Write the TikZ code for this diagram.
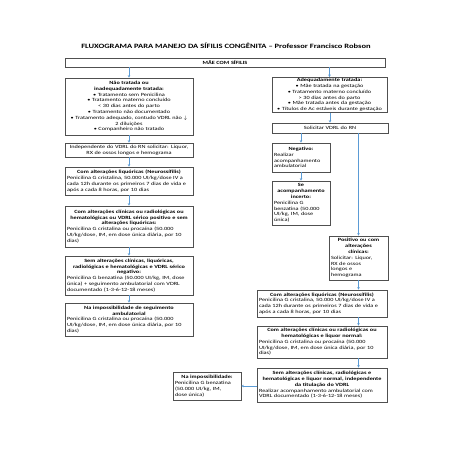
\documentclass[tikz,border=0pt]{standalone}
\usepackage{fontspec}
\setmainfont{Carlito}[FakeStretch=1.3]
\usetikzlibrary{arrows.meta}
\definecolor{arrblue}{HTML}{5B9BD5}
\definecolor{boxgray}{HTML}{505050}
\newcommand\ttl[1]{{\centering\bfseries #1\par}}
\tikzset{
  bx/.style={draw=boxgray, line width=0.6pt, inner xsep=2pt, inner ysep=1pt,
    font=\fontsize{4.8}{5.8}\selectfont, align=left},
  cbx/.style={bx, align=center},
  arr/.style={draw=arrblue, line width=0.6pt, -{Stealth[length=2.6pt,width=2.6pt]}},
  ln/.style={draw=arrblue, line width=0.6pt}
}
\begin{document}
\begin{tikzpicture}[x=1pt,y=-1pt]
\useasboundingbox (0,0) rectangle (453,453);
\node[font=\fontsize{6.55}{7}\selectfont\bfseries] (title) at (226,46)
  {FLUXOGRAMA PARA MANEJO DA SÍFILIS CONGÊNITA – Professor Francisco Robson};

\node[cbx, text width=316pt, minimum width=320pt, minimum height=9pt] (mae) at (225,62.5)
  {\bfseries MÃE COM SÍFILIS};

% left column
\node[cbx, text width=124pt, minimum width=128pt, minimum height=57pt] (nt) at (129,106.5)
  {\textbf{Não tratada ou}\\ \textbf{inadequadamente tratada:}\\
   • Tratamento sem Penicilina\\ • Tratamento materno concluído\\
   < 30 dias antes do parto\\ • Tratamento não documentado\\
   • Tratamento adequado, contudo VDRL não $\downarrow$\\ 2 diluições\\
   • Companheiro não tratado};
\node[cbx, text width=124pt, minimum width=128pt, minimum height=14pt] (ind) at (129,150)
  {Independente do VDRL do RN solicitar: Liquor,\\ RX de ossos longos e hemograma};
\node[bx, text width=124pt, minimum width=128pt, minimum height=28pt] (liq) at (129,181)
  {\ttl{Com alterações liquóricas (Neurossífilis)}%
   Penicilina G cristalina, 50.000 UI/kg/dose IV a\\
   cada 12h durante os primeiros 7 dias de vida e\\
   após a cada 8 horas, por 10 dias};
\node[bx, text width=124pt, minimum width=128pt, minimum height=41pt] (cli) at (129,226.5)
  {\ttl{Com alterações clínicas ou radiológicas ou\\ hematológicas ou VDRL sérico positivo e sem\\ alterações liquóricas:}%
   Penicilina G cristalina ou procaína (50.000\\
   UI/kg/dose, IM, em dose única diária, por 10\\ dias)};
\node[bx, text width=124pt, minimum width=128pt, minimum height=39pt] (sem) at (129,275.5)
  {\ttl{Sem alterações clínicas, liquóricas,\\ radiológicas e hematológicas e VDRL sérico\\ negativo:}%
   Penicilina G benzatina (50.000 UI/kg, IM, dose\\
   única) + seguimento ambulatorial com VDRL\\
   documentado (1-3-6-12-18 meses)};
\node[bx, text width=124pt, minimum width=128pt, minimum height=33pt] (imp) at (129,319.5)
  {\ttl{Na impossibilidade de seguimento\\ ambulatorial}%
   Penicilina G cristalina ou procaína (50.000\\
   UI/kg/dose, IM, em dose única diária, por 10\\ dias)};

% right column
\node[cbx, text width=111pt, minimum width=115pt, minimum height=34pt] (ade) at (329.5,95)
  {\textbf{Adequadamente tratada:}\\ • Mãe tratada na gestação\\
   • Tratamento materno concluído\\ > 30 dias antes do parto\\
   • Mãe tratada antes da gestação\\ • Títulos de Ac estáveis durante gestação};
\node[cbx, text width=112pt, minimum width=116pt, minimum height=10pt] (sol) at (330,128)
  {Solicitar VDRL do RN};
\node[bx, text width=54pt, minimum width=58pt, minimum height=29pt] (neg) at (301,157.5)
  {\ttl{Negativo:}Realizar\\ acompanhamento\\ ambulatorial};
\node[bx, text width=54pt, minimum width=58pt, minimum height=44pt] (se) at (301,203)
  {\ttl{Se\\ acompanhamento\\ incerto:}Penicilina G\\ benzatina (50.000\\ UI/kg, IM, dose\\ única)};
\node[bx, text width=55pt, minimum width=59pt, minimum height=44pt] (pos) at (358.5,258)
  {\ttl{Positivo ou com\\ alterações\\ clínicas:}Solicitar: Liquor,\\ RX de ossos\\ longos e\\ hemograma};
\node[bx, text width=126pt, minimum width=130pt, minimum height=27pt] (rliq) at (322,303.5)
  {\ttl{Com alterações liquóricas (Neurossífilis)}%
   Penicilina G cristalina, 50.000 UI/kg/dose IV a\\
   cada 12h durante os primeiros 7 dias de vida e\\
   após a cada 8 horas, por 10 dias};
\node[bx, text width=126pt, minimum width=130pt, minimum height=32pt] (rcli) at (322,342)
  {\ttl{Com alterações clínicas ou radiológicas ou\\ hematológicas e liquor normal:}%
   Penicilina G cristalina ou procaína (50.000\\
   UI/kg/dose, IM, em dose única diária, por 10\\ dias)};
\node[bx, text width=126pt, minimum width=130pt, minimum height=34pt] (rsem) at (322,385)
  {\ttl{Sem alterações clínicas, radiológicas e\\ hematológicas e liquor normal, independente\\ da titulação do VDRL}%
   Realizar acompanhamento ambulatorial com\\
   VDRL documentado (1-3-6-12-18 meses)};
\node[bx, text width=64pt, minimum width=68pt, minimum height=28pt] (rimp) at (207,386)
  {\ttl{Na impossibilidade:}Penicilina G benzatina\\ (50.000 UI/kg, IM,\\ dose única)};

% connectors
\draw[arr] (mae.south -| nt.north) -- (nt.north);
\draw[arr] (mae.south -| ade.north) -- (ade.north);
\draw[arr] (nt) -- (ind);
\draw[arr] (ind) -- (liq);
\draw[arr] (liq) -- (cli);
\draw[arr] (cli) -- (sem);
\draw[arr] (sem) -- (imp);
\draw[arr] (ade.south -| sol.north) -- (sol.north);
\draw[arr] (sol.south -| neg.north) -- (neg.north);
\draw[arr] (neg) -- (se);
\draw[arr] (sol.south -| pos.north) -- (pos.north);
\draw[arr] (pos.south) -- (pos.south |- rliq.north);
\draw[arr] (pos.south |- rliq.south) -- (pos.south |- rcli.north);
\draw[arr] (pos.south |- rcli.south) -- (pos.south |- rsem.north);
\draw[arr] (rsem.west |- rimp.east) -- (rimp.east);
\end{tikzpicture}
\end{document}
